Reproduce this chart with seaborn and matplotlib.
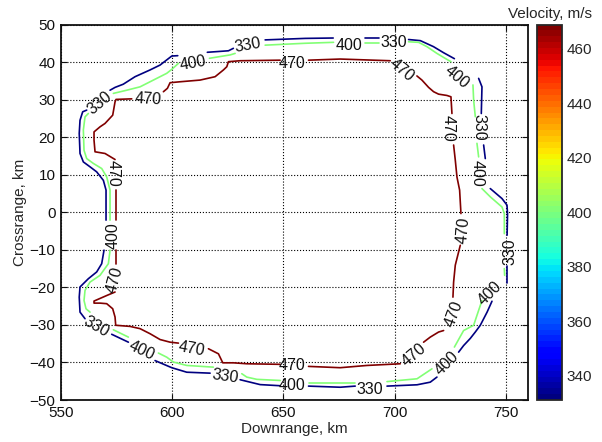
import numpy as np
import pandas as pd
import matplotlib
matplotlib.use("Agg")
import matplotlib.pyplot as plt
import seaborn as sns
from matplotlib.colors import Normalize
from matplotlib.cm import ScalarMappable

# ---------------- data ----------------
levels = [330, 400, 470]

# contour 330 m/s (None = break in the drawn line)
x330 = [572.05, 574.3, 578.0, 583.3, 590.05, 594.55, 599.8, 602.5, None,
        615.8, 625.3, 627.5, None,
        641.8, 659.8, 672.4, None,
        686.5, 692.8, None,
        706.3, 711.6, 717.5, 722.0, 726.9, None,
        737.8, 739.3, 739.0, None,
        740.05, 740.8, None,
        743.05, 748.3, 750.55, 750.8, 750.6, None,
        750.5, 750.5, None,
        743.8, 741.6, 738.55, 736.3, 734.05, 731.05, 728.8, None,
        719.05, 716.05, 710.1, 696.6, None,
        682.3, 675.55, 661.3, None,
        648.55, 639.55, 630.55, None,
        617.05, 606.55, 599.8, 592.3, None,
        580.3, 572.8, None,
        560.8, 558.55, 558.2, 558.55, 562.3, 566.05, 568.3, 569.35, None,
        570.25, 570.25, 569.05, 566.05, 563.05, 560.05, 558.55, 558.2, 558.55, 559.75, 561.55]
y330 = [32.5, 33.25, 34.1, 36.1, 37.9, 39.2, 41.6, 41.7, None,
        42.6, 43.0, 43.65, None,
        45.9, 46.3, 46.4, None,
        46.3, 46.3, None,
        46.0, 45.7, 44.1, 42.5, 40.9, None,
        35.65, 33.4, 26.3, None,
        17.9, 14.3, None,
        6.3, 3.65, 1.9, -0.35, -6.1, None,
        -14.3, -18.8, None,
        -23.7, -26.6, -30.1, -31.9, -33.6, -35.5, -37.25, None,
        -43.9, -45.25, -45.95, -46.3, None,
        -46.3, -46.6, -46.3, None,
        -46.2, -45.9, -44.6, None,
        -42.85, -42.6, -41.4, -39.5, None,
        -34.6, -32.5, None,
        -28.35, -26.6, -22.6, -19.9, -17.7, -15.9, -13.7, -10.1, None,
        -2.1, 5.9, 8.5, 10.75, 12.1, 13.4, 15.65, 21.0, 24.5, 26.75, 27.2]

# contour 400 m/s
x400 = [572.05, 572.05, 570.55, 568.3, 564.55, 561.55, 560.35, 560.05, 560.8, 562.3, None,
        573.55, 579.55, 585.55, 591.55, 597.55, 599.8, 602.8, None,
        616.75, 626.05, 628.3, None,
        641.8, 659.8, 672.55, None,
        686.5, 692.8, None,
        706.3, 710.8, 714.55, 719.05, 723.55, 725.35, None,
        735.25, 735.55, 736.3, None,
        737.05, 737.8, None,
        739.3, 743.05, 748.3, 749.35, 749.35, None,
        749.35, 749.5, None,
        739.3, 735.55, 731.05, 726.9, None,
        716.8, 710.1, 696.6, None,
        682.3, 661.3, None,
        648.55, 638.05, 633.55, 631.3, None,
        618.5, 606.55, 600.55, 597.55, 593.8, None,
        580.3, 573.55, None,
        563.05, 561.25, 560.35, 560.8, 563.05, 567.55, 571.3, 572.05]
y400 = [-2.1, 5.9, 9.4, 11.65, 13.0, 14.3, 16.5, 21.9, 25.4, 26.3, None,
        31.65, 32.5, 33.4, 35.2, 37.0, 38.05, 39.65, None,
        41.0, 41.9, 42.3, None,
        44.5, 45.0, 45.25, None,
        45.0, 45.0, None,
        45.4, 45.25, 44.1, 42.3, 40.7, 40.1, None,
        33.9, 29.9, 25.45, None,
        18.35, 14.75, None,
        6.3, 4.1, 1.4, -0.35, -5.7, None,
        -15.0, -16.8, None,
        -23.5, -30.1, -31.5, -35.9, None,
        -41.7, -44.35, -45.1, None,
        -45.4, -45.4, None,
        -44.8, -44.5, -43.9, -43.0, None,
        -41.25, -40.8, -39.9, -38.6, -37.5, None,
        -33.25, -31.3, None,
        -26.6, -25.7, -23.5, -20.8, -18.6, -16.8, -13.7, -10.1]

# contour 470 m/s
x470 = [581.8, 574.75, 574.3, 573.25, 569.8, 567.55, 564.85, 564.85, 565.3, 569.8, 574.3, None,
        574.75, 574.75, None,
        574.75, 574.75, None,
        574.3, 570.85, 564.85, 564.85, 567.55, 570.55, 573.25, 574.3, 574.6, 581.05, 585.55,
        590.05, 594.55, 599.05, 602.8, None,
        616.3, 620.8, 622.75, 627.55, 633.55, 648.55, None,
        661.3, 675.55, 687.55, 702.55, None,
        713.05, 716.05, 719.8, 722.05, None,
        726.25, 726.55, 727.3, 729.55, None,
        729.85, 729.25, 728.05, 727.3, 726.55, None,
        725.8, 725.35, 723.55, 719.8, 717.55, 715.3, 712.3, 710.05, None,
        698.05, 675.55, 661.3, None,
        648.55, 630.55, 625.3, 624.55, 623.05, 619.3, 612.55, 603.55, 599.05, 597.85, 596.05]
y470 = [30.2, 30.05, 29.4, 25.85, 23.65, 22.75, 21.4, 19.2, 16.1, 15.65, 14.05, None,
        5.9, -2.1, None,
        -10.1, -13.7, None,
        -21.25, -22.1, -23.65, -24.2, -24.2, -24.35, -25.7, -27.9, -30.1, -30.4, -31.0,
        -32.35, -33.9, -34.6, -34.85, None,
        -36.35, -37.7, -40.1, -40.1, -40.35, -40.5, None,
        -41.05, -41.4, -40.8, -40.35, None,
        -34.6, -33.25, -31.9, -31.5, None,
        -22.6, -18.6, -14.1, -8.8, None,
        -0.35, 5.9, 9.4, 13.9, 17.9, None,
        26.3, 30.75, 31.1, 31.45, 32.1, 33.25, 35.2, 36.3, None,
        40.35, 40.8, 40.5, None,
        40.5, 40.35, 40.1, 38.75, 37.9, 36.1, 35.2, 34.75, 34.5, 33.0, 32.1]

# inline contour labels
lab_level = [330, 330, 330, 330, 330, 330, 330, 330,
             400, 400, 400, 400, 400, 400, 400, 400, 400,
             470, 470, 470, 470, 470, 470, 470, 470, 470, 470, 470]
lab_x = [567.55, 634.2, 699.5, 737.8, 752.0, 689.05, 623.8, 566.05,
         609.25, 679.3, 728.1, 737.05, 743.05, 723.6, 653.8, 586.3, 573.55,
         589.3, 653.8, 703.3, 724.3, 731.05, 726.55, 708.55, 653.8, 608.8, 574.3, 573.55]
lab_y = [29.0, 44.5, 45.1, 22.75, -10.6, -47.3, -43.7, -30.4,
         39.65, 44.3, 36.1, 10.3, -21.7, -40.35, -46.1, -36.9, -6.1,
         30.1, 39.65, 37.9, 22.3, -4.8, -27.0, -38.1, -40.8, -36.35, -18.1, 10.3]
lab_rot = [40, 10, 0, -90, 90, 0, -8, -30,
           10, 0, -40, -90, 45, 45, 0, -25, 90,
           -3, 0, -40, -90, 85, 70, 40, 0, -10, 75, -90]

x_ticks = [550, 600, 650, 700, 750]
y_ticks = [-50, -40, -30, -20, -10, 0, 10, 20, 30, 40, 50]
cb_ticks = [340, 360, 380, 400, 420, 440, 460]
v_min, v_max = 331, 469

# ---------------- build table ----------------
rows = []
for lev, xs, ys in [(330, x330, y330), (400, x400, y400), (470, x470, y470)]:
    seg = 0
    for xv, yv in zip(xs, ys):
        if xv is None:
            seg += 1
            continue
        rows.append(dict(level=lev, seg=f"{lev}-{seg}", x=xv, y=yv))
df = pd.DataFrame(rows)

# ---------------- plot ----------------
sns.set_style("ticks")
plt.rcParams["font.family"] = ["Liberation Sans", "DejaVu Sans"]

cmap = plt.get_cmap("jet", 64)
norm = Normalize(v_min, v_max)
palette = {lev: cmap(norm(lev)) for lev in levels}

fig = plt.figure(figsize=(6.02, 4.42), dpi=100)
W, H = 602, 442
ax = fig.add_axes([61 / W, 1 - 400 / H, (528 - 61) / W, (400 - 24.5) / H])

sns.lineplot(data=df, x="x", y="y", hue="level", units="seg", estimator=None,
             sort=False, palette=palette, legend=False, linewidth=1.2, ax=ax)

for lev, lx, ly, rot in zip(lab_level, lab_x, lab_y, lab_rot):
    ax.text(lx, ly, str(lev), rotation=rot, ha="center", va="center",
            rotation_mode="anchor", fontsize=11.5, color="#111111", zorder=5)

ax.set_xlim(550, 760)
ax.set_ylim(-50, 50)
ax.set_xticks(x_ticks)
ax.set_yticks(y_ticks)
ax.grid(True, linestyle=":", color="k", linewidth=0.8)
ax.tick_params(direction="in", top=True, right=True, length=4, width=0.8,
               labelsize=11, pad=4, colors="#111111")
for s in ax.spines.values():
    s.set_linewidth(1.3)
    s.set_color("#111111")
ax.set_xlabel("Downrange, km", fontsize=11, labelpad=2)
ax.set_ylabel("Crossrange, km", fontsize=11, labelpad=2)

cax = fig.add_axes([537 / W, 1 - 400 / H, 25 / W, (400 - 24.5) / H])
sm = ScalarMappable(norm=norm, cmap=cmap)
cb = fig.colorbar(sm, cax=cax)
cb.set_ticks(cb_ticks)
cb.outline.set_linewidth(1.3)
cax.yaxis.set_ticks_position("both")
cax.tick_params(direction="in", length=4, width=0.8, labelsize=11, pad=3,
                labelleft=False, labelright=True)
cax.set_title("Velocity, m/s", fontsize=11, pad=5)

fig.savefig("out.png", dpi=100)
